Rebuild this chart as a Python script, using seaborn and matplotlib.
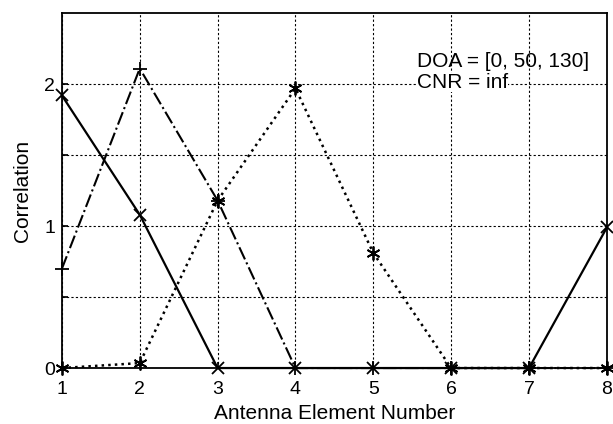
import matplotlib
matplotlib.use("Agg")
import matplotlib.pyplot as plt
import seaborn as sns
import pandas as pd

elements = [1, 2, 3, 4, 5, 6, 7, 8]
series_solid = [1.92, 1.08, 0.0, 0.0, 0.0, 0.0, 0.0, 0.99]
series_dashdot = [0.70, 2.11, 1.18, 0.0, 0.0, 0.0, 0.0, 0.0]
series_dotted = [0.0, 0.035, 1.18, 1.97, 0.81, 0.0, 0.0, 0.0]
ytick_vals = [0, 0.5, 1, 1.5, 2]
ytick_labels = ["0", "", "1", "", "2"]
annot = ["DOA = [0, 50, 130]", "CNR = inf"]

sns.set_theme(style="white")
plt.rcParams['font.family'] = ['Liberation Sans', 'DejaVu Sans']

fig = plt.figure(figsize=(6.13, 4.24), dpi=100)
ax = fig.add_axes([0.101, 0.132, 0.889, 0.837])

df = pd.DataFrame({"x": elements, "solid": series_solid,
                   "dashdot": series_dashdot, "dotted": series_dotted})

common = dict(ax=ax, color="black", mfc="black", mec="black", clip_on=False)
sns.lineplot(data=df, x="x", y="solid", lw=1.6, linestyle="-", marker="x",
             markersize=8, mew=1.3, **common)
sns.lineplot(data=df, x="x", y="dashdot", lw=1.5, linestyle="-.", marker="+",
             markersize=10, mew=1.3, **common)
sns.lineplot(data=df, x="x", y="dotted", lw=1.8, linestyle=":", marker=(6, 2, 0),
             markersize=10, mew=1.3, **common)

ax.set_xlim(1, 8)
ax.set_ylim(0, 2.5)
ax.set_xticks(elements)
ax.set_yticks(ytick_vals)
ax.set_yticklabels(ytick_labels)
ax.grid(True, color="black", linestyle=(0, (2, 2)), linewidth=0.8)
ax.set_axisbelow(True)
for s in ax.spines.values():
    s.set_color("black")
    s.set_linewidth(1.3)
ax.tick_params(axis="both", direction="in", length=4, colors="black",
               labelsize=14, bottom=True, left=True)
ax.tick_params(axis="x", pad=9)
ax.tick_params(axis="y", pad=5)
ax.set_xlabel("Antenna Element Number", fontsize=15, color="black", labelpad=5)
ax.set_ylabel("Correlation", fontsize=15, color="black", labelpad=9)

ax.text(5.56, 2.12, annot[0], fontsize=15, color="black", va="baseline", ha="left")
ax.text(5.56, 1.97, annot[1], fontsize=15, color="black", va="baseline", ha="left",
        bbox=dict(facecolor="white", edgecolor="none", pad=0))

fig.savefig("out.png", dpi=100, facecolor="white")
